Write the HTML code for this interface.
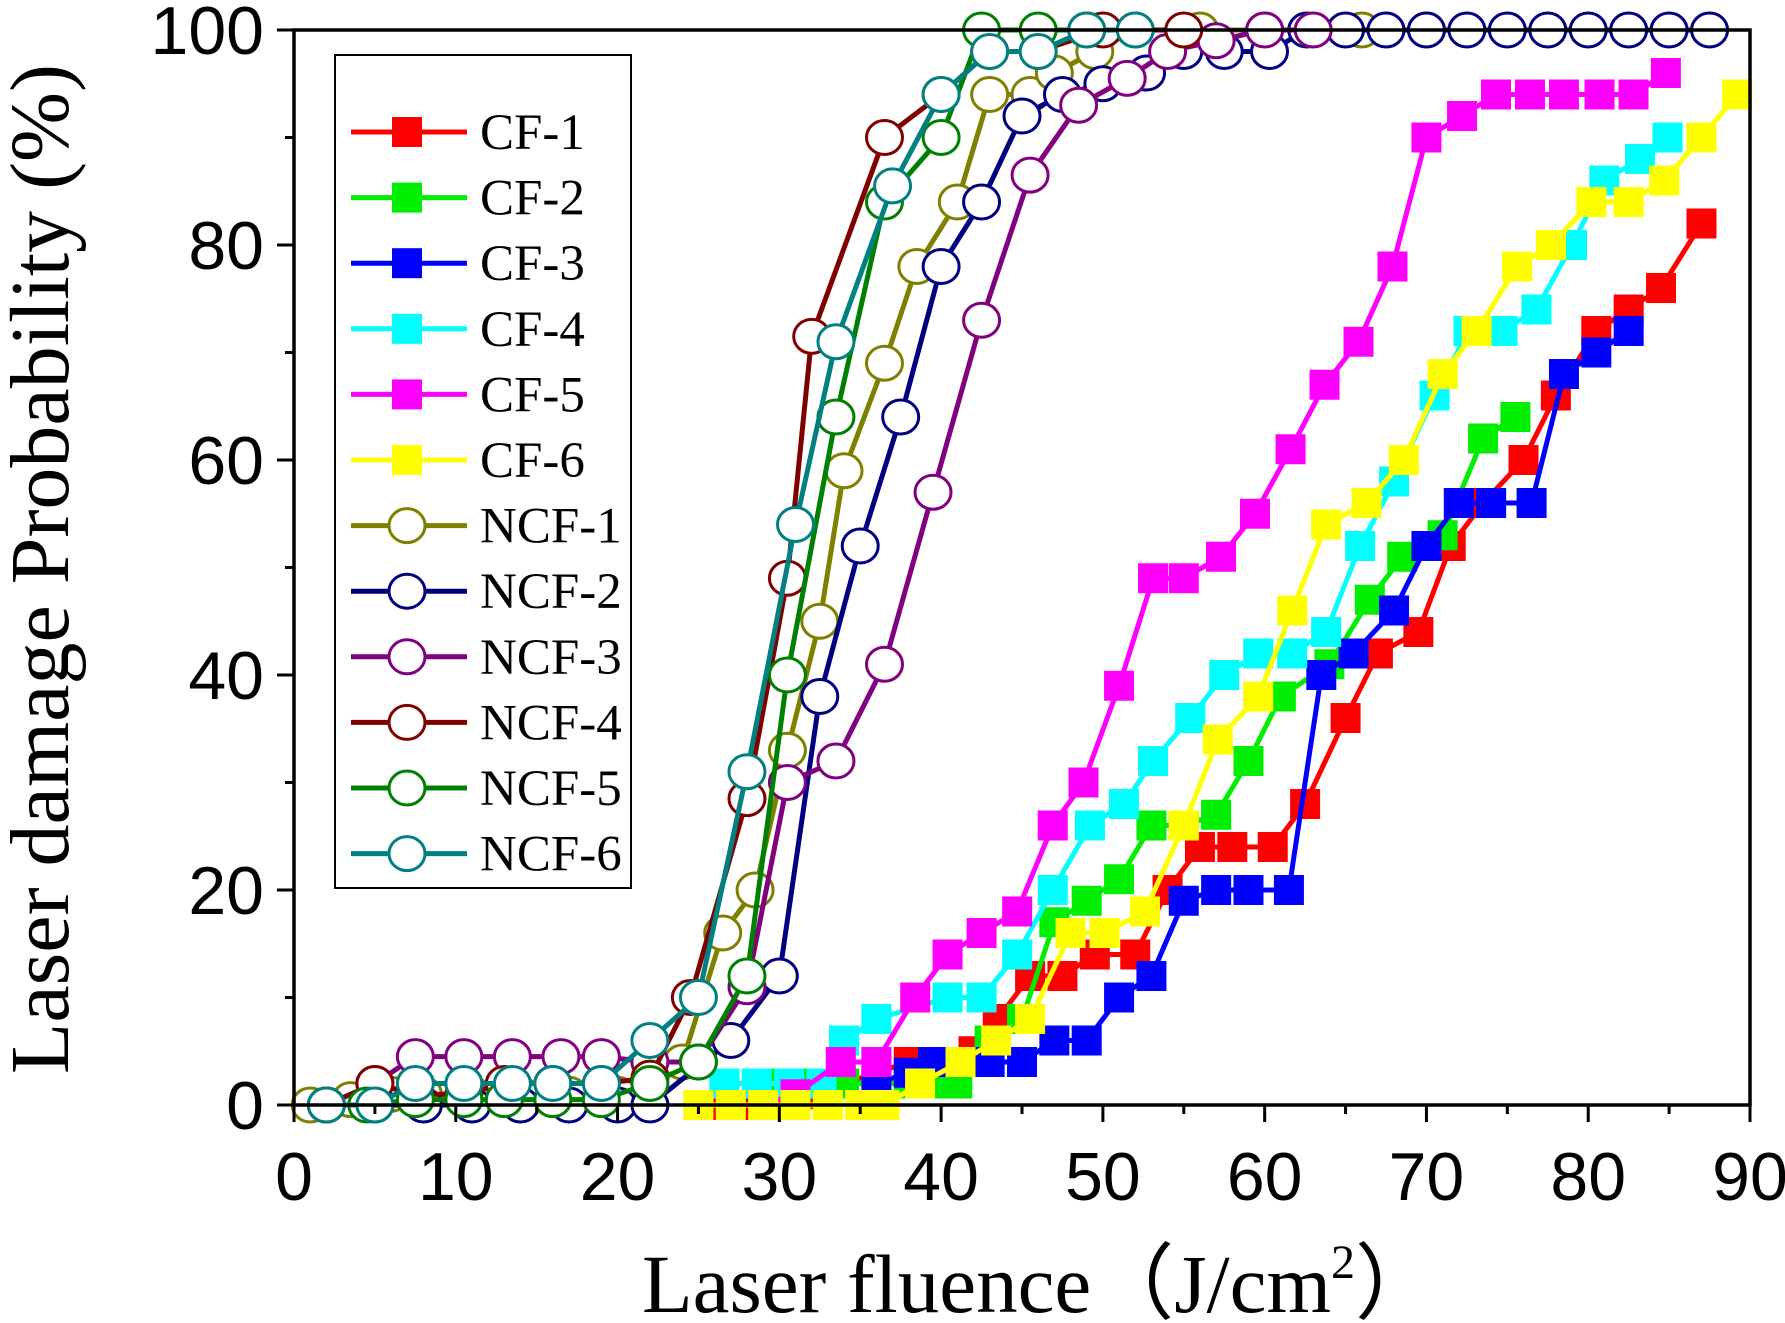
<!DOCTYPE html>
<html><head><meta charset="utf-8"><style>
html,body{margin:0;padding:0;background:#fff;}
svg{display:block;}
</style></head><body>
<svg id="chart" width="1785" height="1323" viewBox="0 0 1785 1323" xmlns="http://www.w3.org/2000/svg">
<g id="plot"></g>
<g id="axes"></g>
<g id="legend"></g>
</svg>
<script>
const seriesNames = ["CF-1","CF-2","CF-3","CF-4","CF-5","CF-6","NCF-1","NCF-2","NCF-3","NCF-4","NCF-5","NCF-6"];
const seriesColors = ["#ff0000","#00ee00","#0000ff","#00ffff","#ff00ff","#ffff00","#808000","#000080","#800080","#800000","#008000","#008080"];
const xTicks = [0,10,20,30,40,50,60,70,80,90];
const yTicks = [0,20,40,60,80,100];
const cf1X = [26,28,30,32,34,36,38,40,42,43.5,45.5,47.5,49.5,52,54,56,58,60.5,62.5,65,67,69.5,71.5,73.5,76,78,80.5,82.5,84.5,87];
const cf1Y = [0,0,0,1,2,3,4,4,5,8,12,12,14,14,20,24,24,24,28,36,42,44,52,56,60,66,72,74,76,82];
const cf2X = [30,32,34,36,38,40,41,43,45,47,49,51,53,55,57,59,61,64,66.5,68.5,71,73.5,75.5];
const cf2Y = [2,2,2,2,2,2,2,6,8,17,19,21,26,26,27,32,38,41,47,51,53,62,64];
const cf3X = [36,38,39.5,41,43,45,47,49,51,53,55,57,59,61.5,63.5,65.5,68,70,72,74,76.5,78.5,80.5,82.5];
const cf3Y = [2,3,4,4,4,4,6,6,10,12,19,20,20,20,40,42,46,52,56,56,56,68,70,72];
const cf4X = [26.6,28.6,30.6,32.6,34,36,40.4,42.5,44.7,46.9,49.2,51.3,53.1,55.4,57.5,59.6,61.7,63.8,65.9,68,70.5,72.6,74.7,76.8,79,81,83.2,84.9];
const cf4Y = [2,2,2,2,6,8,10,10,14,20,26,28,32,36,40,42,42,44,52,58,66,72,72,74,80,86,88,90];
const cf5X = [25,27,29,31,33.8,36,38.4,40.4,42.5,44.7,46.9,48.8,51,53.1,55,57.3,59.4,61.6,63.7,65.8,67.9,70,72.2,74.3,76.4,78.5,80.7,82.8,84.8];
const cf5Y = [0,0,0,1,4,4,10,14,16,18,26,30,39,49,49,51,55,61,67,71,78,90,92,94,94,94,94,94,96];
const cf6X = [25,27,29,31,33,35,36.5,38.7,41.2,43.4,45.5,48,50.1,52.6,55,57.1,59.6,61.7,63.8,66.3,68.6,71,73.1,75.6,77.7,80.2,82.5,84.7,87,89.2];
const cf6Y = [0,0,0,0,0,0,0,2,4,6,8,16,16,18,26,34,38,46,54,56,60,68,72,78,80,84,84,86,90,94];
const ncf1X = [1,3.5,6,8,11,14,17,20,24,26.5,28.5,30.5,32.5,34,36.5,38.5,41,43,45.5,47,49.5,52,56,60,66,70];
const ncf1Y = [0,0.5,1,1,1,1,1,1,4,16,20,33,45,59,69,78,84,94,94,96,98,100,100,100,100,100];
const ncf2X = [2,5,8,11,14,17,20,22,27,30,32.5,35,37.5,40,42.5,45,47.5,50,52.7,55,57.5,60.3,62.6,65,67.5,70,72.5,75,77.5,80,82.5,85,87.5];
const ncf2Y = [0,0,0,0,0,0,0,0,6,12,38,52,64,78,84,92,94,95,96,98,98,98,100,100,100,100,100,100,100,100,100,100,100];
const ncf3X = [2,5,7.5,10.5,13.5,16.5,19,22,25,28,30.5,33.5,36.5,39.5,42.5,45.5,48.5,51.5,54,57,60,63];
const ncf3Y = [0,2,4.5,4.5,4.5,4.5,4.5,4,4,11,30,32,41,57,73,86.5,93,95.5,98,99,100,100];
const ncf4X = [2,5,7.5,10.5,13,16,19,22,24.5,28,30.5,32,36.5,40,43,46,50,55];
const ncf4Y = [0,2,1,1,2,2,2,2.5,10,28.5,49,71.5,90,94,98,98,100,100];
const ncf5X = [2,4.5,7.5,10.5,13,16,19,22,25,28,30.5,33.5,36.5,40,42.5,46,49];
const ncf5Y = [0,0,0.5,0.5,0.5,0.5,0.5,2,4,12,40,64,84,90,100,100,100];
const ncf6X = [2,5,7.5,10.5,13.5,16,19,22,25,28,31,33.5,37,40,43,46,49,52];
const ncf6Y = [0,0,2,2,2,2,2,6,10,31,54,71,85.5,94,98,98,100,100];
const allX = [cf1X,cf2X,cf3X,cf4X,cf5X,cf6X,ncf1X,ncf2X,ncf3X,ncf4X,ncf5X,ncf6X];
const allY = [cf1Y,cf2Y,cf3Y,cf4Y,cf5Y,cf6Y,ncf1Y,ncf2Y,ncf3Y,ncf4Y,ncf5Y,ncf6Y];

const NS="http://www.w3.org/2000/svg";
const L=294,R=1750,T=30,B=1105;
const sx=v=>L+(v-0)/(90-0)*(R-L);
const sy=v=>B-(v-0)/(100-0)*(B-T);
function mk(tag,attrs,parent){const e=document.createElementNS(NS,tag);for(const k in attrs)e.setAttribute(k,attrs[k]);parent.appendChild(e);return e;}
const plot=document.getElementById('plot');
const axes=document.getElementById('axes');
const legend=document.getElementById('legend');

for(let s=0;s<12;s++){
  const g=mk('g',{},plot);
  
  
  const xs=allX[s],ys=allY[s];
  const pts=xs.map((x,i)=>sx(x).toFixed(1)+','+sy(ys[i]).toFixed(1)).join(' ');
  const pl=mk('polyline',{points:pts,fill:'none',stroke:seriesColors[s],'stroke-width':5,'stroke-linejoin':'round'},g);
  
  
  for(let i=0;i<xs.length;i++){
    let m;
    if(s<6){m=mk('rect',{x:sx(xs[i])-15,y:sy(ys[i])-15,width:30,height:30,fill:seriesColors[s]},g);}
    else{m=mk('ellipse',{cx:sx(xs[i]),cy:sy(ys[i]),rx:18,ry:17,fill:'#fff',stroke:seriesColors[s],'stroke-width':3},g);}
    
    
  }
}
const fr=mk('rect',{x:L,y:T,width:R-L,height:B-T,fill:'none',stroke:'#000','stroke-width':3.5},axes);


for(let v=0;v<=90;v+=5){
  const len=(v%10===0)?17:9;
  const t=mk('line',{x1:sx(v),x2:sx(v),y1:B,y2:B+len,stroke:'#000','stroke-width':3},axes);
  
  
}
for(let v=0;v<=100;v+=10){
  const len=(v%20===0)?17:9;
  const t=mk('line',{x1:L-len,x2:L,y1:sy(v),y2:sy(v),stroke:'#000','stroke-width':3},axes);
  
  
}
xTicks.forEach(v=>{
  const t=mk('text',{x:sx(v),y:1200,'text-anchor':'middle','font-family':'Liberation Sans, sans-serif','font-size':68},axes);
  t.textContent=v;
  
  
});
yTicks.forEach(v=>{
  const t=mk('text',{x:264,y:sy(v)+24,'text-anchor':'end','font-family':'Liberation Sans, sans-serif','font-size':68},axes);
  t.textContent=v;
  
  
});
const yt=mk('text',{x:0,y:0,transform:'translate(68,569) rotate(-90)','text-anchor':'middle','font-family':'Liberation Serif, serif','font-size':84},axes);
yt.textContent='Laser damage Probability (%)';


const xt=mk('text',{x:1040,y:1312,'text-anchor':'middle','font-family':'Liberation Serif, serif','font-size':83},axes);
xt.innerHTML='Laser fluence（J/cm<tspan dy="-34" font-size="48">2</tspan><tspan dy="34">）</tspan>';



const lb=mk('rect',{x:335,y:55,width:296,height:833,fill:'#fff',stroke:'#000','stroke-width':2},legend);


for(let s=0;s<12;s++){
  const yy=132+65.6*s;
  const g=mk('g',{},legend);
  
  
  mk('line',{x1:351,x2:467,y1:yy,y2:yy,stroke:seriesColors[s],'stroke-width':5},g);
  if(s<6)mk('rect',{x:392,y:yy-15,width:30,height:30,fill:seriesColors[s]},g);
  else mk('ellipse',{cx:407,cy:yy,rx:18,ry:17,fill:'#fff',stroke:seriesColors[s],'stroke-width':3},g);
  const t=mk('text',{x:480,y:yy+17,'font-family':'Liberation Serif, serif','font-size':51},g);
  t.textContent=seriesNames[s];
}
</script>
</body></html>
